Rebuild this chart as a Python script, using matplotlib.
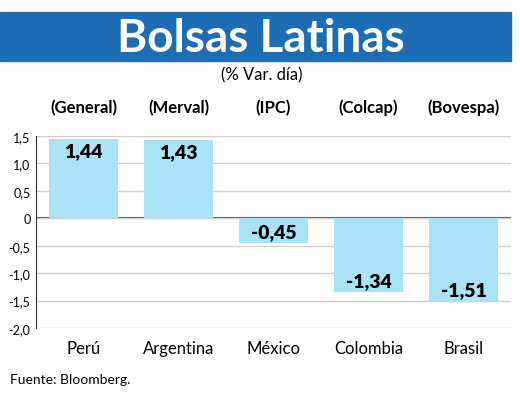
import numpy as np
import matplotlib.pyplot as plt
from matplotlib.patches import Rectangle

# data
paises = ['Perú', 'Argentina', 'México', 'Colombia', 'Brasil']
indices = ['(General)', '(Merval)', '(IPC)', '(Colcap)', '(Bovespa)']
var_dia = [1.44, 1.43, -0.45, -1.34, -1.51]
yticks = [1.5, 1.0, 0.5, 0, -0.5, -1.0, -1.5, -2.0]
ytick_labels = ['1,5', '1,0', '0,5', '0', '-0,5', '-1,0', '-1,5', '-2,0']

W, H = 520, 402
plt.rcParams['font.family'] = ['Lato', 'DejaVu Sans']

fig = plt.figure(figsize=(W / 100, H / 100), dpi=100)

def px(x, y):
    # pixel coords (top-left origin) -> figure fraction
    return x / W, 1 - y / H

# title banner
x0, y0 = px(0, 62)
fig.patches.append(Rectangle((x0, y0), 511 / W, 49 / H, transform=fig.transFigure,
                             color='#1C6DB3', zorder=0))
fig.text(*px(261, 39), 'Bolsas Latinas', color='white', fontsize=33, fontweight='bold',
         ha='center', va='center')
fig.text(*px(262, 75), '(% Var. día)', fontsize=12, ha='center', va='center')

# axes
l, b = px(36, 329)
ax = fig.add_axes([l, b, (511 - 36) / W, (329 - 137) / H])
x = np.arange(len(paises))
ax.bar(x, var_dia, width=0.72, color='#AAE2F6', zorder=2)
ax.set_xlim(-0.5, len(paises) - 0.5)
ax.set_ylim(-2.0, 1.5)
ax.set_yticks(yticks)
ax.set_yticklabels(ytick_labels, fontsize=9)
ax.set_xticks(x)
ax.set_xticklabels(paises, fontsize=12)
ax.tick_params(axis='both', length=0)
ax.tick_params(axis='x', pad=9)
ax.tick_params(axis='y', pad=4)
ax.grid(axis='y', color='#CFCFCF', lw=1, zorder=0)
ax.axhline(0, color='#555555', lw=1.5, zorder=1)
for s in ['top', 'right', 'bottom']:
    ax.spines[s].set_visible(False)
ax.spines['left'].set_color('#333333')

for xi, v in zip(x, var_dia):
    lab = f'{v:.2f}'.replace('.', ',')
    if v > 0:
        ax.annotate(lab, (xi, v), xytext=(0, -2), textcoords='offset points',
                    ha='center', va='top', fontsize=14, fontweight='heavy', zorder=3)
    else:
        ax.annotate(lab, (xi, v), xytext=(0, 2), textcoords='offset points',
                    ha='center', va='bottom', fontsize=14, fontweight='heavy', zorder=3)

# index names above bars
for xi, name in zip(x, indices):
    xf = ax.transData.transform((xi, 0))[0] / fig.bbox.width
    fig.text(xf, 1 - 108 / H, name, fontsize=12, fontweight='bold',
             ha='center', va='center')

fig.text(*px(10, 380), 'Fuente: Bloomberg.', fontsize=10, ha='left', va='center')

fig.savefig('out.png', dpi=100)
